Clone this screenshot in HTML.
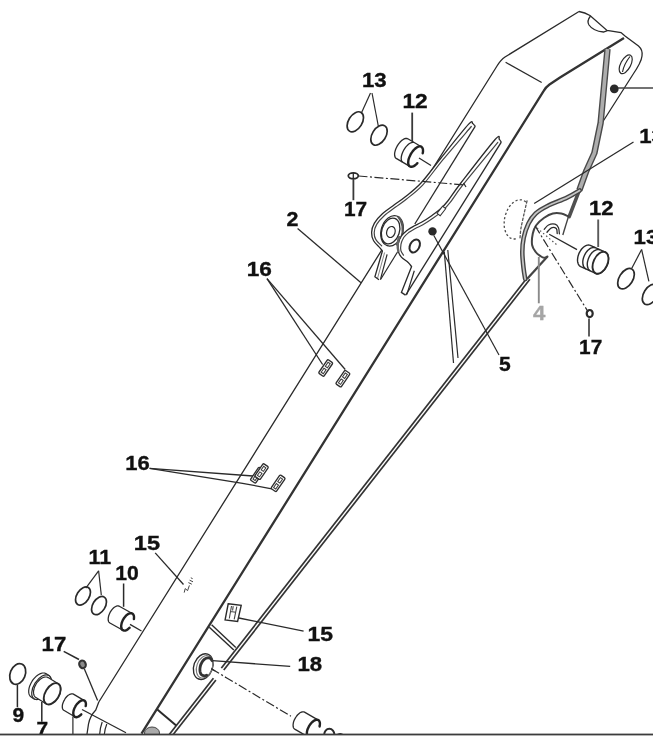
<!DOCTYPE html>
<html><head><meta charset="utf-8"><title>Arm parts diagram</title>
<style>
html,body{margin:0;padding:0;background:#fff;}
body{width:653px;height:736px;overflow:hidden;}
svg{display:block;filter:grayscale(1) blur(0.4px);font-family:"Liberation Sans",sans-serif;font-weight:bold;}
</style></head><body>
<svg width="653" height="736" viewBox="0 0 653 736">
<rect x="0" y="0" width="653" height="736" fill="#fff"/>
<path d="M98.8 702 L497.0 66 Q501 59.5 505 57 L579 11.5" fill="none" stroke="#2a2a2a" stroke-width="1.3" />
<path d="M98.8 702 L95.8 710 Q90 716 88.5 724 L87 734" fill="none" stroke="#2a2a2a" stroke-width="1.3" />
<path d="M102.2 722 Q100 728 99.7 734" fill="none" stroke="#2a2a2a" stroke-width="1.2" />
<path d="M106.8 724 Q104.8 729 104.4 734" fill="none" stroke="#2a2a2a" stroke-width="1.2" />
<path d="M579 11.5 Q585 12.5 590 15.5 L607 30.5 L621 32.5 L625 36 L638.5 46 Q643 50 642 56 Q641.5 62 632.6 75 L602 123" fill="none" stroke="#2a2a2a" stroke-width="1.3" />
<path d="M590.5 16 Q586.5 21 589 25 Q593 31 603.5 32 L607.4 30.6" fill="none" stroke="#2a2a2a" stroke-width="1.3" />
<path d="M505.6 62.3 L541.7 82.5" fill="none" stroke="#2a2a2a" stroke-width="1.3" />
<path d="M141.5 733.6 L543.7 90.9 Q546 87 549.5 84.5 L560 77.5 L624 38" fill="none" stroke="#333" stroke-width="2.3" />
<path d="M579.4 190.1 L569.2 216.6" fill="none" stroke="#505050" stroke-width="3.6" stroke-linecap="round"/>
<path d="M607.5 49.0 L600.6 123.0 L594.4 153.0 L586.4 170.7 L579.4 190.1" fill="none" stroke="#4a4a4a" stroke-width="6.4" stroke-linejoin="round"/>
<path d="M607.5 49.0 L600.6 123.0 L594.4 153.0 L586.4 170.7 L579.4 190.1" fill="none" stroke="#adadad" stroke-width="3.6" stroke-linejoin="round"/>
<ellipse cx="625.7" cy="64.3" rx="5.0" ry="10.3" transform="rotate(28.0 625.7 64.3)" fill="none" stroke="#2a2a2a" stroke-width="1.2" />
<path d="M622.5 72 Q624 64 630 56.5" fill="none" stroke="#2a2a2a" stroke-width="1.2" />
<circle cx="614.3" cy="88.8" r="4.4" fill="#2a2a2a"/>
<path d="M618.0 88.0 L653.0 88.0" fill="none" stroke="#444" stroke-width="1.5" />
<path d="M526.0 279.3 L168.1 736.0" fill="none" stroke="#333" stroke-width="1.7" />
<path d="M529.9 279.3 L172.0 736.0" fill="none" stroke="#333" stroke-width="1.7" />
<path d="M579.6 190.5 C577.5 191.7 572.4 195.0 567.0 197.6 C561.6 200.2 552.2 203.5 547.0 206.2 C541.8 208.8 538.8 210.6 535.7 213.5 C532.6 216.4 530.5 219.4 528.5 223.5 C526.5 227.6 524.7 233.1 523.7 237.8 C522.7 242.6 522.3 247.0 522.3 252.0 C522.3 257.0 523.0 263.2 523.5 267.7 C524.0 272.2 524.9 277.1 525.2 279.0" fill="none" stroke="#444" stroke-width="4.6" stroke-linejoin="round" stroke-linecap="round" />
<path d="M579.6 190.5 C577.5 191.7 572.4 195.0 567.0 197.6 C561.6 200.2 552.2 203.5 547.0 206.2 C541.8 208.8 538.8 210.6 535.7 213.5 C532.6 216.4 530.5 219.4 528.5 223.5 C526.5 227.6 524.7 233.1 523.7 237.8 C522.7 242.6 522.3 247.0 522.3 252.0 C522.3 257.0 523.0 263.2 523.5 267.7 C524.0 272.2 524.9 277.1 525.2 279.0" fill="none" stroke="#c4c4c4" stroke-width="1.8" stroke-linejoin="round" stroke-linecap="round" />
<path d="M568.5 216.4 C567.3 215.9 563.9 214.0 561.3 213.5 C558.7 213.0 555.6 212.8 552.8 213.5 C549.9 214.2 546.9 215.9 544.2 217.8 C541.5 219.7 538.3 222.4 536.4 225.0 C534.5 227.6 533.5 230.2 532.8 233.5 C532.1 236.8 531.6 241.9 532.1 245.0 C532.6 248.1 534.3 250.1 535.7 252.0 C537.1 253.9 539.3 255.3 540.7 256.3 C542.1 257.3 542.9 257.8 544.0 257.8 C545.1 257.8 546.9 256.7 547.5 256.5" fill="none" stroke="#444" stroke-width="2.0" stroke-linejoin="round" stroke-linecap="round" />
<path d="M547.5 256.5 L527.0 279.0" fill="none" stroke="#444" stroke-width="2.2" />
<path d="M568.5 216.4 L562.8 235.0" fill="none" stroke="#444" stroke-width="1.4" />
<path d="M544.2 229.4 C544.9 228.7 546.7 225.9 548.5 225.0 C550.3 224.1 553.3 223.7 555.0 224.2 C556.7 224.7 557.8 226.2 558.5 227.8 C559.2 229.4 559.2 232.8 559.4 233.8" fill="none" stroke="#2a2a2a" stroke-width="1.2" stroke-linejoin="round" stroke-linecap="round" />
<path d="M547.0 232.2 C547.7 231.5 549.9 228.4 551.4 227.8 C552.9 227.2 555.3 227.7 556.3 228.6 C557.3 229.5 557.1 232.7 557.2 233.5" fill="none" stroke="#2a2a2a" stroke-width="1.3" stroke-linejoin="round" stroke-linecap="round" />
<path d="M515.8 238.9 L514.5 239.0 L513.3 239.0 L512.1 238.7 L511.0 238.3 L509.9 237.7 L508.9 236.9 L508.0 236.0 L507.1 234.9 L506.4 233.7 L505.7 232.3 L505.2 230.8 L504.8 229.2 L504.4 227.6 L504.2 225.8 L504.2 224.0 L504.2 222.2 L504.4 220.3 L504.6 218.4 L505.0 216.5 L505.5 214.7 L506.2 212.9 L506.9 211.1 L507.7 209.5 L508.6 207.9 L509.6 206.4 L510.6 205.1 L511.8 203.8 L512.9 202.8 L514.1 201.8 L515.4 201.1 L516.6 200.5 L517.9 200.1 L519.2 199.8 L520.4 199.8 L521.6 199.9 L522.8 200.2 L523.9 200.7 L525.0 201.3 L525.9 202.1 L526.9 203.1" fill="none" stroke="#4a4a4a" stroke-width="1.3" stroke-dasharray="2.2 2.2"/>
<path d="M527.0 201.0 C526.5 203.2 525.0 209.5 524.0 214.0 C523.0 218.5 521.7 224.0 521.0 228.0 C520.3 232.0 520.2 236.3 520.0 238.0" fill="none" stroke="#555" stroke-width="1.3" stroke-linejoin="round" stroke-linecap="round" stroke-dasharray="2.2 2.2"/>
<path d="M633.5 142.0 L534.2 203.5" fill="none" stroke="#2a2a2a" stroke-width="1.3" />
<path d="M549.2 234.2 L577.0 249.6" fill="none" stroke="#2a2a2a" stroke-width="1.3" />
<path d="M535.0 225.7 L588.2 312.0" fill="none" stroke="#2a2a2a" stroke-width="1.2" stroke-dasharray="9 2.5 2 2.5"/>
<path d="M537.0 228.0 L557.0 245.0" fill="none" stroke="#555" stroke-width="1.2" stroke-dasharray="1.5 2.5"/>
<path d="M472.6 123.4 L468.4 124.4 L441.0 158.0 L421.0 183.0 L405.0 197.0 L394.0 205.0 L382.4 213.8 L374.4 223.1 L371.6 232.6 L373.6 240.8 L379.7 247.6 L382.4 251.0 L382.4 251.0 L374.9 276.8 L379.0 279.8 L380.4 279.8 L475.3 126.2 Z" fill="#fff" stroke="none"/>
<path d="M472.6 123.4 C471.9 123.6 473.7 118.6 468.4 124.4 C463.1 130.2 448.9 148.2 441.0 158.0 C433.1 167.8 427.0 176.5 421.0 183.0 C415.0 189.5 409.5 193.3 405.0 197.0 C400.5 200.7 397.8 202.2 394.0 205.0 C390.2 207.8 385.7 210.8 382.4 213.8 C379.1 216.8 376.2 220.0 374.4 223.1 C372.6 226.2 371.7 229.6 371.6 232.6 C371.5 235.6 372.2 238.3 373.6 240.8 C375.0 243.3 378.2 245.9 379.7 247.6 C381.2 249.3 381.9 250.4 382.4 251.0" fill="none" stroke="#2a2a2a" stroke-width="1.3" stroke-linejoin="round" stroke-linecap="round" />
<path d="M382.4 251.0 L374.9 276.8 L379.0 279.8" fill="none" stroke="#2a2a2a" stroke-width="1.3" />
<path d="M387.1 254.4 L380.6 278.8" fill="none" stroke="#2a2a2a" stroke-width="1.2" />
<path d="M384.6 252.5 L377.6 278.0" fill="none" stroke="#666" stroke-width="0.8" />
<path d="M475.3 126.2 L414.8 224.0" fill="none" stroke="#2a2a2a" stroke-width="1.3" />
<path d="M397.5 252.0 L380.4 279.8" fill="none" stroke="#2a2a2a" stroke-width="1.2" />
<path d="M471.3 126.5 C466.6 132.0 451.1 149.9 443.0 159.6 C435.0 169.3 429.0 178.2 422.9 184.8 C416.8 191.3 411.2 195.3 406.6 199.0 C402.1 202.7 399.3 204.3 395.6 207.1 C391.8 209.9 387.3 212.8 384.2 215.7 C381.0 218.6 378.3 221.6 376.7 224.4 C375.0 227.2 374.3 230.2 374.2 232.7 C374.1 235.2 374.6 237.4 375.9 239.6 C377.1 241.8 380.7 244.8 381.7 245.9" fill="none" stroke="#444" stroke-width="1.2" stroke-linejoin="round" stroke-linecap="round" />
<path d="M472.6 123.4 L475.3 126.2" fill="none" stroke="#2a2a2a" stroke-width="1.2" />
<ellipse cx="392.0" cy="230.8" rx="10.8" ry="15.6" transform="rotate(18.0 392.0 230.8)" fill="#fff" stroke="#2a2a2a" stroke-width="1.2" />
<path d="M396 245 Q404 238 402.5 226 Q401.5 220 398 216.5" fill="none" stroke="#555" stroke-width="2.2" />
<ellipse cx="390.6" cy="231.0" rx="8.8" ry="13.2" transform="rotate(18.0 390.6 231.0)" fill="none" stroke="#2a2a2a" stroke-width="1.3" />
<ellipse cx="390.9" cy="232.0" rx="4.2" ry="5.6" transform="rotate(18.0 390.9 232.0)" fill="none" stroke="#2a2a2a" stroke-width="1.2" />
<path d="M499.2 139.0 L494.9 139.8 L460.5 183.5 L447.8 201.0 L440.6 208.8 L432.0 215.5 L421.5 222.3 L414.0 226.0 L406.9 230.4 L401.4 236.0 L398.3 243.5 L398.2 251.2 L401.4 257.1 L408.2 262.5 L411.6 266.6 L411.6 266.6 L401.4 292.4 L405.5 295.1 L405.7 295.1 L501.3 142.2 Z" fill="#fff" stroke="none"/>
<path d="M499.2 139.0 C498.5 139.1 501.3 132.4 494.9 139.8 C488.4 147.2 468.4 173.3 460.5 183.5 C452.6 193.7 451.1 196.8 447.8 201.0 C444.5 205.2 443.2 206.4 440.6 208.8 C438.0 211.2 435.2 213.2 432.0 215.5 C428.8 217.8 424.5 220.6 421.5 222.3 C418.5 224.1 416.4 224.7 414.0 226.0 C411.6 227.3 409.0 228.7 406.9 230.4 C404.8 232.1 402.8 233.8 401.4 236.0 C400.0 238.2 398.8 241.0 398.3 243.5 C397.8 246.0 397.7 248.9 398.2 251.2 C398.7 253.5 399.7 255.2 401.4 257.1 C403.1 259.0 406.5 260.9 408.2 262.5 C409.9 264.1 411.0 265.9 411.6 266.6" fill="none" stroke="#2a2a2a" stroke-width="1.3" stroke-linejoin="round" stroke-linecap="round" />
<path d="M411.6 266.6 L401.4 292.4 L405.5 295.1" fill="none" stroke="#2a2a2a" stroke-width="1.3" />
<path d="M414.3 270.7 L406.8 294.6" fill="none" stroke="#2a2a2a" stroke-width="1.2" />
<path d="M501.3 142.2 L405.7 295.1" fill="none" stroke="#2a2a2a" stroke-width="1.3" />
<path d="M497.8 142.3 C492.0 149.5 470.7 175.1 462.7 185.2 C454.8 195.3 453.4 198.5 450.0 202.7 C446.6 207.0 445.2 208.4 442.5 210.9 C439.8 213.4 436.9 215.5 433.6 217.8 C430.4 220.1 426.0 222.9 422.9 224.7 C419.9 226.5 417.7 227.1 415.4 228.4 C413.0 229.8 410.6 231.1 408.6 232.6 C406.7 234.1 405.0 235.6 403.7 237.5 C402.5 239.5 401.5 241.9 401.0 244.1 C400.6 246.3 400.5 248.7 400.9 250.6 C401.3 252.4 403.1 254.5 403.5 255.2" fill="none" stroke="#444" stroke-width="1.2" stroke-linejoin="round" stroke-linecap="round" />
<path d="M499.2 139.0 L501.3 142.2" fill="none" stroke="#2a2a2a" stroke-width="1.2" />
<path d="M399.5 236 Q396.5 244 398.5 252" fill="none" stroke="#666" stroke-width="2.4" />
<ellipse cx="414.7" cy="245.9" rx="4.7" ry="6.9" transform="rotate(28.0 414.7 245.9)" fill="none" stroke="#2a2a2a" stroke-width="2.0" />
<circle cx="432.5" cy="231.4" r="4.2" fill="#2a2a2a"/>
<g transform="translate(441.4 211) rotate(-52)"><rect x="-4.5" y="-2" width="9" height="4" fill="#fff" stroke="#333" stroke-width="1"/></g>
<path d="M444.3 251.7 L453.5 363.0" fill="none" stroke="#2a2a2a" stroke-width="1.2" />
<path d="M447.8 250.0 L458.0 358.0" fill="none" stroke="#2a2a2a" stroke-width="1.2" />
<path d="M433.7 235.2 L499.0 355.0" fill="none" stroke="#2a2a2a" stroke-width="1.2" />
<text transform="matrix(1.1081 0 0 1.0282 362.00 86.79)" font-size="20.0" fill="#111" stroke="#111" stroke-width="0.35">13</text>
<path d="M370.5 93.0 L361.4 113.0" fill="none" stroke="#2a2a2a" stroke-width="1.2" />
<path d="M372.0 93.0 L378.3 126.0" fill="none" stroke="#2a2a2a" stroke-width="1.2" />
<ellipse cx="355.3" cy="121.8" rx="6.8" ry="11.0" transform="rotate(32.0 355.3 121.8)" fill="none" stroke="#2a2a2a" stroke-width="1.7" />
<ellipse cx="379.0" cy="135.2" rx="6.8" ry="11.0" transform="rotate(32.0 379.0 135.2)" fill="none" stroke="#2a2a2a" stroke-width="1.7" />
<text transform="matrix(1.1351 0 0 1.0214 402.40 107.70)" font-size="20.0" fill="#111" stroke="#111" stroke-width="0.35">12</text>
<path d="M412.2 112.6 L412.2 141.0" fill="none" stroke="#3a3a3a" stroke-width="1.8" />
<path d="M396.2 158.4 L395.7 158.0 L395.2 157.4 L394.9 156.6 L394.7 155.7 L394.6 154.7 L394.6 153.6 L394.8 152.4 L395.1 151.1 L395.5 149.8 L396.0 148.5 L396.6 147.2 L397.3 145.9 L398.1 144.6 L399.0 143.4 L399.9 142.3 L400.9 141.3 L401.8 140.4 L402.8 139.7 L403.8 139.1 L404.7 138.7 L405.6 138.5 L406.4 138.4 L407.1 138.5 L407.8 138.8 L421.4 146.8 L421.9 147.2 L422.4 147.8 L422.7 148.6 L422.9 149.5 L423.0 150.5 L423.0 151.6 L422.8 152.8 L422.5 154.1 L422.1 155.4 L421.6 156.7 L421.0 158.0 L420.3 159.3 L419.5 160.6 L418.6 161.8 L417.7 162.9 L416.7 163.9 L415.8 164.8 L414.8 165.5 L413.8 166.1 L412.9 166.5 L412.0 166.7 L411.2 166.8 L410.5 166.7 L409.8 166.4 Z" fill="#fff" stroke="none"/>
<path d="M409.8 166.4 L396.2 158.4 L395.7 158.0 L395.2 157.4 L394.9 156.6 L394.7 155.7 L394.6 154.7 L394.6 153.6 L394.8 152.4 L395.1 151.1 L395.5 149.8 L396.0 148.5 L396.6 147.2 L397.3 145.9 L398.1 144.6 L399.0 143.4 L399.9 142.3 L400.9 141.3 L401.8 140.4 L402.8 139.7 L403.8 139.1 L404.7 138.7 L405.6 138.5 L406.4 138.4 L407.1 138.5 L407.8 138.8 L421.4 146.8" fill="none" stroke="#2a2a2a" stroke-width="1.3" stroke-linejoin="round"/>
<path d="M417.4 163.2 L416.2 164.4 L415.0 165.4 L413.8 166.1 L412.6 166.6 L411.6 166.8 L410.6 166.7 L409.8 166.4 L409.1 165.8 L408.6 165.0 L408.3 163.9 L408.2 162.6 L408.3 161.2 L408.5 159.7 L409.0 158.1 L409.7 156.4 L410.5 154.7 L411.4 153.1 L412.5 151.6 L413.6 150.2 L414.8 149.0 L416.0 148.0 L417.2 147.2 L418.4 146.7 L419.4 146.4 L420.4 146.4 L421.3 146.7 L422.0 147.3 L422.5 148.1 L422.9 149.1 L423.0 150.3 L423.0 151.7 L422.7 153.2" fill="none" stroke="#222" stroke-width="2.4" stroke-linecap="round" stroke-linejoin="round"/>
<path d="M402.4 162.0 L402.0 161.5 L401.6 160.9 L401.4 160.1 L401.2 159.2 L401.2 158.2 L401.3 157.1 L401.5 156.0 L401.8 154.7 L402.2 153.5 L402.7 152.2 L403.3 151.0 L403.9 149.8 L404.7 148.6 L405.5 147.4 L406.4 146.4 L407.3 145.4 L408.2 144.6 L409.1 143.8 L410.0 143.2 L410.9 142.8 L411.7 142.5 L412.5 142.3 L413.3 142.3 L414.0 142.5" fill="none" stroke="#2a2a2a" stroke-width="1.3" />
<path d="M419.0 158.0 L431.0 165.5" fill="none" stroke="#2a2a2a" stroke-width="1.3" />
<ellipse cx="353.3" cy="175.8" rx="5.0" ry="2.9" transform="rotate(0.0 353.3 175.8)" fill="none" stroke="#2a2a2a" stroke-width="1.8" />
<path d="M353.3 173.0 L353.3 179.0" fill="none" stroke="#2a2a2a" stroke-width="1.3" />
<path d="M358.5 176.0 L465.0 185.0" fill="none" stroke="#2a2a2a" stroke-width="1.2" stroke-dasharray="9 2.5 2 2.5"/>
<path d="M463.5 183.0 L466.0 187.0" fill="none" stroke="#2a2a2a" stroke-width="1.2" />
<path d="M353.4 179.0 L353.4 200.2" fill="none" stroke="#3a3a3a" stroke-width="1.8" />
<text transform="matrix(1.0405 0 0 1.0000 344.00 215.80)" font-size="20.0" fill="#111" stroke="#111" stroke-width="0.35">17</text>
<text transform="matrix(1.0721 0 0 1.0071 286.60 225.70)" font-size="20.0" fill="#111" stroke="#111" stroke-width="0.35">2</text>
<path d="M297.6 228.4 L361.0 282.8" fill="none" stroke="#2a2a2a" stroke-width="1.3" />
<text transform="matrix(1.1306 0 0 1.0070 246.70 275.70)" font-size="20.0" fill="#111" stroke="#111" stroke-width="0.35">16</text>
<path d="M267.0 278.6 L322.6 364.5" fill="none" stroke="#2a2a2a" stroke-width="1.3" />
<path d="M267.0 278.6 L345.2 369.5" fill="none" stroke="#2a2a2a" stroke-width="1.3" />
<g transform="translate(325.7 368.0) rotate(-55.5)"><rect x="-8.25" y="-3.2" width="16.5" height="6.4" rx="1.2" fill="#fff" stroke="#2e2e2e" stroke-width="1.35"/><rect x="-6.05" y="-1.3000000000000003" width="4.85" height="2.6000000000000005" fill="none" stroke="#3a3a3a" stroke-width="1.0"/><rect x="1.2" y="-1.3000000000000003" width="4.85" height="2.6000000000000005" fill="none" stroke="#3a3a3a" stroke-width="1.0"/></g>
<g transform="translate(342.9 378.7) rotate(-55.5)"><rect x="-8.25" y="-3.2" width="16.5" height="6.4" rx="1.2" fill="#fff" stroke="#2e2e2e" stroke-width="1.35"/><rect x="-6.05" y="-1.3000000000000003" width="4.85" height="2.6000000000000005" fill="none" stroke="#3a3a3a" stroke-width="1.0"/><rect x="1.2" y="-1.3000000000000003" width="4.85" height="2.6000000000000005" fill="none" stroke="#3a3a3a" stroke-width="1.0"/></g>
<text transform="matrix(1.0991 0 0 1.0000 125.20 470.10)" font-size="20.0" fill="#111" stroke="#111" stroke-width="0.35">16</text>
<path d="M149.6 468.3 L253.0 476.0" fill="none" stroke="#2a2a2a" stroke-width="1.3" />
<path d="M149.6 468.3 L242.6 483.3 L271.8 488.8" fill="none" stroke="#2a2a2a" stroke-width="1.3" />
<g transform="translate(257.2 475.2) rotate(-55.5)"><rect x="-7.75" y="-3.2" width="15.5" height="6.4" rx="1.2" fill="#fff" stroke="#2e2e2e" stroke-width="1.35"/><rect x="-5.55" y="-1.3000000000000003" width="4.35" height="2.6000000000000005" fill="none" stroke="#3a3a3a" stroke-width="1.0"/><rect x="1.2" y="-1.3000000000000003" width="4.35" height="2.6000000000000005" fill="none" stroke="#3a3a3a" stroke-width="1.0"/></g>
<g transform="translate(261.6 471.6) rotate(-55.5)"><rect x="-7.75" y="-3.2" width="15.5" height="6.4" rx="1.2" fill="#fff" stroke="#2e2e2e" stroke-width="1.35"/><rect x="-5.55" y="-1.3000000000000003" width="4.35" height="2.6000000000000005" fill="none" stroke="#3a3a3a" stroke-width="1.0"/><rect x="1.2" y="-1.3000000000000003" width="4.35" height="2.6000000000000005" fill="none" stroke="#3a3a3a" stroke-width="1.0"/></g>
<g transform="translate(278.1 483.3) rotate(-55.5)"><rect x="-8.25" y="-3.2" width="16.5" height="6.4" rx="1.2" fill="#fff" stroke="#2e2e2e" stroke-width="1.35"/><rect x="-6.05" y="-1.3000000000000003" width="4.85" height="2.6000000000000005" fill="none" stroke="#3a3a3a" stroke-width="1.0"/><rect x="1.2" y="-1.3000000000000003" width="4.85" height="2.6000000000000005" fill="none" stroke="#3a3a3a" stroke-width="1.0"/></g>
<text transform="matrix(1.1081 0 0 0.9859 639.30 143.10)" font-size="20.0" fill="#111" stroke="#111" stroke-width="0.35">13</text>
<text transform="matrix(1.1036 0 0 0.9714 589.10 215.10)" font-size="20.0" fill="#111" stroke="#111" stroke-width="0.35">12</text>
<path d="M598.2 219.5 L598.2 247.0" fill="none" stroke="#5a5a5a" stroke-width="1.9" />
<path d="M580.7 266.6 L579.9 266.1 L579.2 265.5 L578.6 264.7 L578.2 263.7 L577.8 262.6 L577.6 261.4 L577.5 260.1 L577.6 258.8 L577.8 257.4 L578.1 255.9 L578.6 254.5 L579.1 253.1 L579.8 251.8 L580.6 250.5 L581.4 249.3 L582.4 248.2 L583.4 247.3 L584.4 246.5 L585.4 245.9 L586.5 245.4 L587.5 245.1 L588.5 245.0 L589.4 245.1 L590.3 245.4 L605.3 252.2 L606.1 252.7 L606.8 253.3 L607.4 254.1 L607.8 255.1 L608.2 256.2 L608.4 257.4 L608.5 258.7 L608.4 260.0 L608.2 261.4 L607.9 262.9 L607.4 264.3 L606.9 265.7 L606.2 267.0 L605.4 268.3 L604.6 269.5 L603.6 270.6 L602.6 271.5 L601.6 272.3 L600.6 272.9 L599.5 273.4 L598.5 273.7 L597.5 273.8 L596.6 273.7 L595.7 273.4 Z" fill="#fff" stroke="#2a2a2a" stroke-width="1.4" stroke-linejoin="round"/>
<path d="M586.0 268.9 L585.2 268.5 L584.5 267.8 L583.9 267.0 L583.4 266.1 L583.1 265.0 L582.9 263.8 L582.8 262.5 L582.8 261.2 L583.0 259.8 L583.4 258.3 L583.8 256.9 L584.4 255.5 L585.1 254.1 L585.8 252.9 L586.7 251.7 L587.6 250.6 L588.6 249.7 L589.6 248.9 L590.7 248.2 L591.7 247.8 L592.7 247.5 L593.7 247.4 L594.7 247.5 L595.5 247.8" fill="none" stroke="#2a2a2a" stroke-width="1.4" />
<path d="M590.5 271.0 L589.7 270.5 L589.0 269.9 L588.4 269.1 L587.9 268.1 L587.6 267.0 L587.4 265.8 L587.3 264.6 L587.3 263.2 L587.5 261.8 L587.9 260.4 L588.3 258.9 L588.9 257.5 L589.6 256.2 L590.3 254.9 L591.2 253.7 L592.1 252.6 L593.1 251.7 L594.1 250.9 L595.2 250.3 L596.2 249.8 L597.2 249.6 L598.2 249.5 L599.2 249.6 L600.0 249.9" fill="none" stroke="#2a2a2a" stroke-width="1.4" />
<ellipse cx="600.5" cy="262.8" rx="7.0" ry="11.6" transform="rotate(24.4 600.5 262.8)" fill="#fff" stroke="#2a2a2a" stroke-width="1.9" />
<text transform="matrix(1.1081 0 0 0.9718 633.60 243.91)" font-size="20.0" fill="#111" stroke="#111" stroke-width="0.35">13</text>
<path d="M641.6 249.5 L631.8 268.3" fill="none" stroke="#2a2a2a" stroke-width="1.2" />
<path d="M641.6 249.5 L648.9 281.4" fill="none" stroke="#2a2a2a" stroke-width="1.2" />
<ellipse cx="626.0" cy="278.7" rx="6.8" ry="11.3" transform="rotate(32.0 626.0 278.7)" fill="none" stroke="#2a2a2a" stroke-width="1.7" />
<ellipse cx="650.6" cy="294.4" rx="6.8" ry="11.3" transform="rotate(32.0 650.6 294.4)" fill="none" stroke="#2a2a2a" stroke-width="1.7" />
<text transform="matrix(1.1081 0 0 0.9783 532.90 319.50)" font-size="20.0" fill="#a6a6a6" stroke="#a6a6a6" stroke-width="0.35">4</text>
<path d="M538.8 257.0 L538.8 303.3" fill="none" stroke="#8a8a8a" stroke-width="1.9" />
<ellipse cx="589.7" cy="313.6" rx="3.0" ry="3.6" transform="rotate(0.0 589.7 313.6)" fill="none" stroke="#2a2a2a" stroke-width="2.2" />
<path d="M589.0 318.5 L589.0 336.5" fill="none" stroke="#2a2a2a" stroke-width="1.5" />
<text transform="matrix(1.0405 0 0 1.0217 579.10 354.40)" font-size="20.0" fill="#111" stroke="#111" stroke-width="0.35">17</text>
<text transform="matrix(1.0541 0 0 1.0071 499.10 371.30)" font-size="20.0" fill="#111" stroke="#111" stroke-width="0.35">5</text>
<text transform="matrix(1.1802 0 0 1.0071 133.80 549.80)" font-size="20.0" fill="#111" stroke="#111" stroke-width="0.35">15</text>
<path d="M155.2 552.9 L183.5 584.5" fill="none" stroke="#2a2a2a" stroke-width="1.3" />
<path d="M184.2 592.6 L185.2 588.6 L187.6 590.6 L189.4 585.4 M188.4 582.6 L191.8 584.2 M189.6 580.2 L193 581.8 M190.8 577.8 L192.6 578.6" fill="none" stroke="#444" stroke-width="1.0" />
<text transform="matrix(1.0711 0 0 1.0435 88.60 564.40)" font-size="20.0" fill="#111" stroke="#111" stroke-width="0.35">11</text>
<path d="M98.6 570.8 L85.8 588.2" fill="none" stroke="#2a2a2a" stroke-width="1.2" />
<path d="M98.6 570.8 L101.3 595.0" fill="none" stroke="#2a2a2a" stroke-width="1.2" />
<ellipse cx="83.0" cy="596.0" rx="6.2" ry="10.0" transform="rotate(32.0 83.0 596.0)" fill="none" stroke="#2a2a2a" stroke-width="1.7" />
<ellipse cx="99.0" cy="605.6" rx="6.2" ry="10.0" transform="rotate(32.0 99.0 605.6)" fill="none" stroke="#2a2a2a" stroke-width="1.7" />
<text transform="matrix(1.0586 0 0 1.0070 115.30 579.50)" font-size="20.0" fill="#111" stroke="#111" stroke-width="0.35">10</text>
<path d="M123.6 583.5 L123.6 606.8" fill="none" stroke="#2a2a2a" stroke-width="1.5" />
<path d="M109.9 623.0 L109.4 622.6 L108.9 622.1 L108.6 621.4 L108.3 620.6 L108.2 619.8 L108.2 618.8 L108.3 617.8 L108.5 616.7 L108.8 615.5 L109.2 614.4 L109.7 613.3 L110.2 612.2 L110.9 611.1 L111.6 610.1 L112.4 609.1 L113.2 608.3 L114.0 607.6 L114.8 607.0 L115.7 606.5 L116.5 606.1 L117.3 605.9 L118.0 605.9 L118.7 606.0 L119.3 606.2 L132.3 613.5 L132.8 613.9 L133.3 614.4 L133.6 615.1 L133.9 615.9 L134.0 616.7 L134.0 617.7 L133.9 618.7 L133.7 619.8 L133.4 621.0 L133.0 622.1 L132.5 623.2 L132.0 624.3 L131.3 625.4 L130.6 626.4 L129.8 627.4 L129.0 628.2 L128.2 628.9 L127.4 629.5 L126.5 630.0 L125.7 630.4 L124.9 630.6 L124.2 630.6 L123.5 630.5 L122.9 630.3 Z" fill="#fff" stroke="none"/>
<path d="M122.9 630.3 L109.9 623.0 L109.4 622.6 L108.9 622.1 L108.6 621.4 L108.3 620.6 L108.2 619.8 L108.2 618.8 L108.3 617.8 L108.5 616.7 L108.8 615.5 L109.2 614.4 L109.7 613.3 L110.2 612.2 L110.9 611.1 L111.6 610.1 L112.4 609.1 L113.2 608.3 L114.0 607.6 L114.8 607.0 L115.7 606.5 L116.5 606.1 L117.3 605.9 L118.0 605.9 L118.7 606.0 L119.3 606.2 L132.3 613.5" fill="none" stroke="#2a2a2a" stroke-width="1.3" stroke-linejoin="round"/>
<path d="M129.6 627.7 L128.5 628.6 L127.5 629.5 L126.5 630.1 L125.4 630.5 L124.5 630.6 L123.6 630.5 L122.9 630.2 L122.2 629.7 L121.7 629.0 L121.4 628.1 L121.2 627.0 L121.2 625.8 L121.4 624.4 L121.7 623.0 L122.2 621.6 L122.8 620.2 L123.6 618.8 L124.5 617.5 L125.4 616.4 L126.4 615.3 L127.5 614.5 L128.5 613.8 L129.6 613.4 L130.5 613.2 L131.4 613.2 L132.2 613.5 L132.9 614.0 L133.4 614.7 L133.8 615.5 L134.0 616.6 L134.0 617.8 L133.9 619.1" fill="none" stroke="#222" stroke-width="2.4" stroke-linecap="round" stroke-linejoin="round"/>
<path d="M130.0 624.4 L141.5 631.0" fill="none" stroke="#2a2a2a" stroke-width="1.3" />
<text transform="matrix(1.1081 0 0 1.0000 41.60 650.70)" font-size="20.0" fill="#111" stroke="#111" stroke-width="0.35">17</text>
<path d="M63.7 651.3 L79.0 659.5" fill="none" stroke="#2a2a2a" stroke-width="1.5" />
<ellipse cx="82.5" cy="664.4" rx="3.2" ry="3.9" transform="rotate(-20.0 82.5 664.4)" fill="#8a8a8a" stroke="#333" stroke-width="2.2" />
<path d="M84.4 669.0 L97.6 700.6" fill="none" stroke="#2a2a2a" stroke-width="1.3" />
<ellipse cx="17.7" cy="674.0" rx="7.5" ry="10.7" transform="rotate(22.0 17.7 674.0)" fill="none" stroke="#2a2a2a" stroke-width="1.7" />
<path d="M17.4 684.8 L17.4 707.2" fill="none" stroke="#2a2a2a" stroke-width="1.5" />
<text transform="matrix(1.0450 0 0 0.9930 12.60 721.80)" font-size="20.0" fill="#111" stroke="#111" stroke-width="0.35">9</text>
<path d="M31.1 697.0 L30.3 696.3 L29.7 695.5 L29.2 694.5 L28.9 693.4 L28.7 692.1 L28.7 690.7 L28.9 689.2 L29.2 687.6 L29.7 686.0 L30.4 684.4 L31.2 682.8 L32.1 681.2 L33.1 679.7 L34.2 678.4 L35.4 677.1 L36.6 675.9 L37.9 675.0 L39.2 674.2 L40.4 673.6 L41.7 673.2 L42.9 673.0 L44.0 673.0 L45.0 673.2 L45.9 673.6 L48.9 675.5 L49.7 676.2 L50.3 677.0 L50.8 678.0 L51.1 679.1 L51.3 680.4 L51.3 681.8 L51.1 683.3 L50.8 684.9 L50.3 686.5 L49.6 688.1 L48.8 689.7 L47.9 691.3 L46.9 692.8 L45.8 694.1 L44.6 695.4 L43.4 696.6 L42.1 697.5 L40.8 698.3 L39.6 698.9 L38.3 699.3 L37.1 699.5 L36.0 699.5 L35.0 699.3 L34.1 698.9 Z" fill="#fff" stroke="#2a2a2a" stroke-width="1.2" stroke-linejoin="round"/>
<ellipse cx="41.5" cy="687.2" rx="7.6" ry="13.8" transform="rotate(32.3 41.5 687.2)" fill="#fff" stroke="#2a2a2a" stroke-width="1.2" />
<path d="M35.9 697.6 L35.2 697.0 L34.6 696.3 L34.1 695.5 L33.8 694.5 L33.6 693.4 L33.5 692.1 L33.6 690.8 L33.9 689.5 L34.2 688.1 L34.7 686.7 L35.4 685.4 L36.1 684.0 L36.9 682.7 L37.9 681.6 L38.9 680.5 L39.9 679.5 L41.0 678.7 L42.1 678.0 L43.2 677.5 L44.3 677.1 L45.4 677.0 L46.3 677.0 L47.3 677.2 L48.1 677.6 L58.3 683.8 L59.0 684.4 L59.6 685.1 L60.1 685.9 L60.4 686.9 L60.6 688.0 L60.7 689.3 L60.6 690.6 L60.3 691.9 L60.0 693.3 L59.5 694.7 L58.8 696.0 L58.1 697.4 L57.3 698.7 L56.3 699.8 L55.3 700.9 L54.3 701.9 L53.2 702.7 L52.1 703.4 L51.0 703.9 L49.9 704.3 L48.8 704.4 L47.9 704.4 L46.9 704.2 L46.1 703.8 Z" fill="#fff" stroke="#2a2a2a" stroke-width="1.2" stroke-linejoin="round"/>
<ellipse cx="52.2" cy="693.8" rx="6.9" ry="11.7" transform="rotate(31.3 52.2 693.8)" fill="#fff" stroke="#2a2a2a" stroke-width="1.9" />
<path d="M41.8 702.0 L41.8 721.8" fill="none" stroke="#2a2a2a" stroke-width="1.5" />
<text transform="matrix(1.0450 0 0 1.0217 36.50 736.30)" font-size="20.0" fill="#111" stroke="#111" stroke-width="0.35">7</text>
<path d="M63.8 710.3 L63.3 709.9 L62.9 709.4 L62.6 708.7 L62.4 708.0 L62.3 707.1 L62.3 706.2 L62.4 705.2 L62.6 704.1 L63.0 703.0 L63.4 701.9 L63.9 700.8 L64.5 699.8 L65.1 698.7 L65.8 697.7 L66.6 696.8 L67.4 696.0 L68.2 695.3 L69.1 694.8 L69.9 694.3 L70.7 694.0 L71.4 693.8 L72.1 693.8 L72.8 693.9 L73.4 694.1 L84.4 700.6 L84.9 701.0 L85.3 701.5 L85.6 702.2 L85.8 702.9 L85.9 703.8 L85.9 704.7 L85.8 705.7 L85.6 706.8 L85.2 707.9 L84.8 709.0 L84.3 710.1 L83.7 711.1 L83.1 712.2 L82.4 713.2 L81.6 714.1 L80.8 714.9 L80.0 715.6 L79.1 716.1 L78.3 716.6 L77.5 716.9 L76.8 717.1 L76.1 717.1 L75.4 717.0 L74.8 716.8 Z" fill="#fff" stroke="none"/>
<path d="M74.8 716.8 L63.8 710.3 L63.3 709.9 L62.9 709.4 L62.6 708.7 L62.4 708.0 L62.3 707.1 L62.3 706.2 L62.4 705.2 L62.6 704.1 L63.0 703.0 L63.4 701.9 L63.9 700.8 L64.5 699.8 L65.1 698.7 L65.8 697.7 L66.6 696.8 L67.4 696.0 L68.2 695.3 L69.1 694.8 L69.9 694.3 L70.7 694.0 L71.4 693.8 L72.1 693.8 L72.8 693.9 L73.4 694.1 L84.4 700.6" fill="none" stroke="#2a2a2a" stroke-width="1.3" stroke-linejoin="round"/>
<path d="M81.3 714.3 L80.3 715.3 L79.3 716.1 L78.3 716.6 L77.3 717.0 L76.3 717.2 L75.5 717.1 L74.8 716.8 L74.2 716.2 L73.7 715.5 L73.4 714.6 L73.3 713.6 L73.3 712.4 L73.5 711.1 L73.9 709.7 L74.4 708.3 L75.1 707.0 L75.8 705.6 L76.7 704.4 L77.7 703.3 L78.7 702.3 L79.7 701.5 L80.7 700.9 L81.7 700.4 L82.7 700.3 L83.5 700.3 L84.3 700.6 L84.9 701.0 L85.4 701.7 L85.7 702.6 L85.9 703.6 L85.9 704.8 L85.7 706.1" fill="none" stroke="#222" stroke-width="2.4" stroke-linecap="round" stroke-linejoin="round"/>
<path d="M72.9 716.5 L72.9 734.0" fill="none" stroke="#2a2a2a" stroke-width="1.2" />
<path d="M82.0 709.5 L126.0 732.8" fill="none" stroke="#2a2a2a" stroke-width="1.3" />
<text transform="matrix(1.1486 0 0 1.0286 307.60 641.49)" font-size="20.0" fill="#111" stroke="#111" stroke-width="0.35">15</text>
<path d="M238.8 618.0 L303.6 631.1" fill="none" stroke="#2a2a2a" stroke-width="1.3" />
<path d="M228.2 603.8 L241.2 605.3 L237.6 621.4 L225.1 619.9 Z" fill="#fff" stroke="#2a2a2a" stroke-width="1.4" />
<path d="M231.5 606 L229.3 618.5 M236.8 606.6 L234.2 619.3 M230.6 611.5 L235.6 612.2 M233.2 606.2 L232.6 610.5" fill="none" stroke="#444" stroke-width="1.1" />
<text transform="matrix(1.1081 0 0 1.0000 297.40 671.30)" font-size="20.0" fill="#111" stroke="#111" stroke-width="0.35">18</text>
<path d="M212.5 660.6 L290.2 666.4" fill="none" stroke="#2a2a2a" stroke-width="1.3" />
<ellipse cx="203.2" cy="666.6" rx="9.4" ry="13.2" transform="rotate(20.0 203.2 666.6)" fill="#fff" stroke="#2a2a2a" stroke-width="1.4" />
<ellipse cx="204.6" cy="666.8" rx="7.8" ry="11.6" transform="rotate(20.0 204.6 666.8)" fill="none" stroke="#777" stroke-width="1.1" />
<path d="M206.7 675.2 L205.5 675.7 L204.4 675.8 L203.3 675.7 L202.4 675.3 L201.5 674.7 L200.8 673.7 L200.3 672.5 L200.0 671.2 L199.9 669.7 L200.0 668.1 L200.3 666.4 L200.7 664.8 L201.4 663.3 L202.2 661.8 L203.2 660.5 L204.3 659.4 L205.4 658.6 L206.5 658.0 L207.7 657.8 L208.8 657.8 L209.8 658.1 L210.7 658.7 L211.4 659.6 L212.0 660.7" fill="none" stroke="#333" stroke-width="2.8" stroke-linecap="round"/>
<path d="M211.3 668.7 L290.9 716.2" fill="none" stroke="#2a2a2a" stroke-width="1.2" stroke-dasharray="9 2.5 2 2.5"/>
<path d="M294.7 729.1 L294.2 728.7 L293.7 728.1 L293.4 727.5 L293.2 726.7 L293.1 725.8 L293.1 724.8 L293.2 723.8 L293.4 722.7 L293.7 721.5 L294.1 720.4 L294.7 719.2 L295.3 718.1 L296.0 717.0 L296.7 716.0 L297.5 715.0 L298.3 714.2 L299.2 713.4 L300.0 712.8 L300.9 712.3 L301.7 712.0 L302.5 711.8 L303.2 711.8 L303.9 711.9 L304.5 712.1 L318.3 720.1 L318.8 720.5 L319.3 721.1 L319.6 721.7 L319.8 722.5 L319.9 723.4 L319.9 724.4 L319.8 725.4 L319.6 726.5 L319.3 727.7 L318.9 728.8 L318.3 730.0 L317.7 731.1 L317.0 732.2 L316.3 733.2 L315.5 734.2 L314.7 735.0 L313.8 735.8 L313.0 736.4 L312.1 736.9 L311.3 737.2 L310.5 737.4 L309.8 737.4 L309.1 737.3 L308.5 737.1 Z" fill="#fff" stroke="none"/>
<path d="M308.5 737.1 L294.7 729.1 L294.2 728.7 L293.7 728.1 L293.4 727.5 L293.2 726.7 L293.1 725.8 L293.1 724.8 L293.2 723.8 L293.4 722.7 L293.7 721.5 L294.1 720.4 L294.7 719.2 L295.3 718.1 L296.0 717.0 L296.7 716.0 L297.5 715.0 L298.3 714.2 L299.2 713.4 L300.0 712.8 L300.9 712.3 L301.7 712.0 L302.5 711.8 L303.2 711.8 L303.9 711.9 L304.5 712.1 L318.3 720.1" fill="none" stroke="#2a2a2a" stroke-width="1.3" stroke-linejoin="round"/>
<path d="M311.3 737.2 L310.4 737.4 L309.6 737.4 L308.9 737.3 L308.2 736.9 L307.7 736.4 L307.3 735.7 L307.0 734.8 L306.9 733.8 L306.9 732.7 L307.0 731.5 L307.3 730.2 L307.7 729.0 L308.3 727.7 L308.9 726.4 L309.7 725.1 L310.5 724.0 L311.4 722.9 L312.3 722.0 L313.3 721.2 L314.2 720.6 L315.2 720.1 L316.1 719.8 L316.9 719.8 L317.7 719.9 L318.4 720.2 L319.0 720.6 L319.4 721.3 L319.7 722.1 L319.9 723.1 L319.9 724.1 L319.8 725.3 L319.6 726.5" fill="none" stroke="#222" stroke-width="2.4" stroke-linecap="round" stroke-linejoin="round"/>
<ellipse cx="329.3" cy="735.0" rx="5.2" ry="6.2" transform="rotate(0.0 329.3 735.0)" fill="none" stroke="#2a2a2a" stroke-width="2.0" />
<ellipse cx="338.0" cy="741.0" rx="5.0" ry="8.0" transform="rotate(30.0 338.0 741.0)" fill="none" stroke="#2a2a2a" stroke-width="1.2" />
<path d="M214.5 679 L222.5 669" stroke="#fff" stroke-width="9" fill="none"/>
<path d="M211.3 668.7 L226.0 677.5" fill="none" stroke="#2a2a2a" stroke-width="1.2" stroke-dasharray="9 2.5 2 2.5"/>
<path d="M157.3 709.6 L176.2 725.4" fill="none" stroke="#2a2a2a" stroke-width="2.0" />
<path d="M209.3 627.2 L233.8 650.0" fill="none" stroke="#2a2a2a" stroke-width="1.4" />
<path d="M211.6 624.8 L235.8 647.6" fill="none" stroke="#2a2a2a" stroke-width="1.4" />
<ellipse cx="152" cy="733" rx="7.5" ry="6" fill="#aaa" stroke="#444" stroke-width="1"/>
<rect x="0" y="734" width="653" height="3" fill="#fff"/>
<rect x="-5" y="733.6" width="663" height="1.8" fill="#3c3c3c"/>
</svg>
</body></html>
